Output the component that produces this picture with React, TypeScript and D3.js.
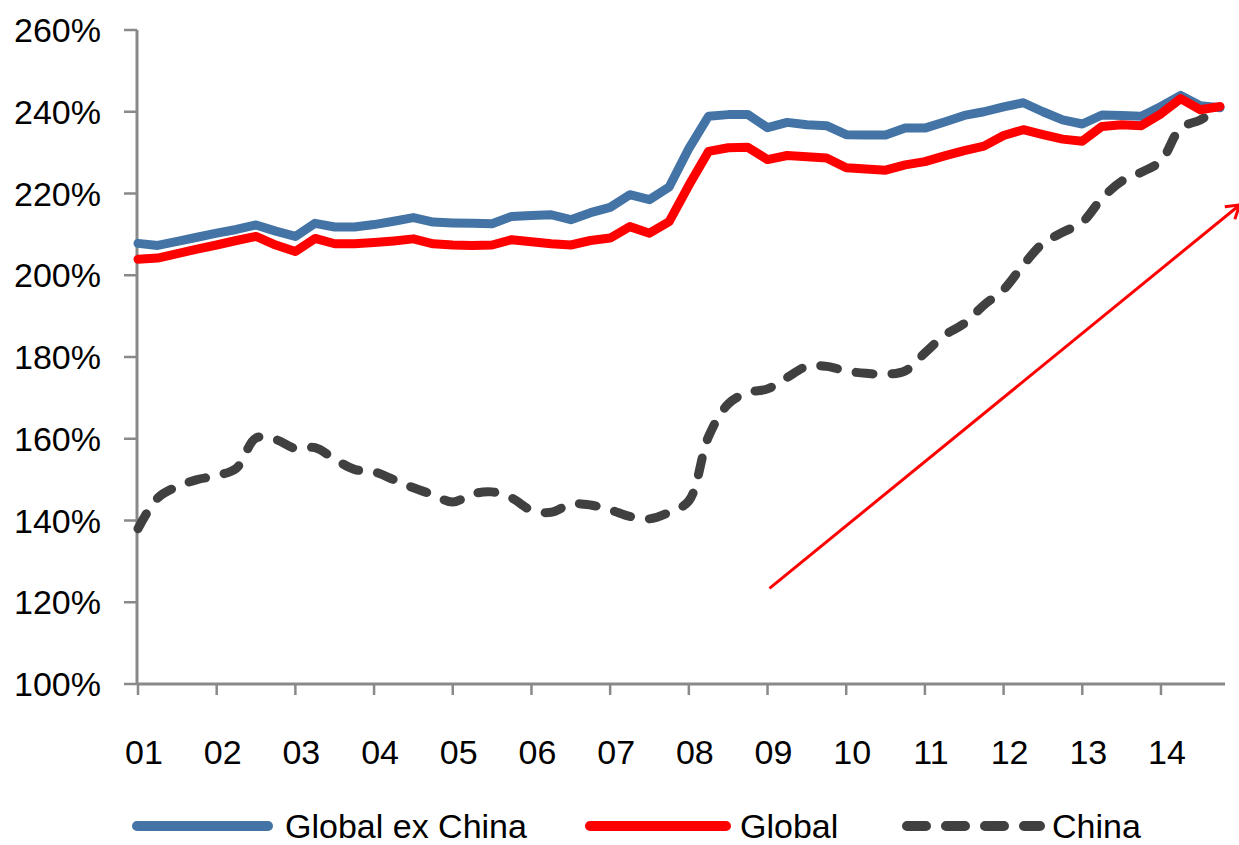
import React from "react";
import * as d3 from "d3";

// Quarterly observations, 2001 Q1 through 2014 Q4 (% of GDP)
const globalExChina = [
  207.8, 207.3, 208.3, 209.3, 210.3, 211.2, 212.3, 210.8, 209.5, 212.7, 211.8, 211.8,
  212.4, 213.2, 214.1, 213.0, 212.8, 212.7, 212.6, 214.4, 214.6, 214.8, 213.6, 215.3,
  216.6, 219.7, 218.5, 221.6, 231.0, 238.9, 239.3, 239.3, 236.1, 237.4, 236.8, 236.6,
  234.4, 234.3, 234.3, 236.0, 236.0, 237.5, 239.1, 240.0, 241.2, 242.2, 240.0, 238.0,
  237.0, 239.2, 239.1, 238.9, 241.3, 244.0, 241.5, 241.0,
];

const globalTotal = [
  203.9, 204.2, 205.3, 206.4, 207.4, 208.5, 209.5, 207.4, 205.8, 209.0, 207.7, 207.7,
  208.0, 208.4, 208.9, 207.7, 207.4, 207.3, 207.4, 208.7, 208.2, 207.7, 207.4, 208.5,
  209.1, 211.9, 210.3, 213.1, 222.0, 230.3, 231.2, 231.3, 228.3, 229.3, 229.0, 228.7,
  226.3, 226.0, 225.7, 227.0, 227.8, 229.2, 230.5, 231.6, 234.2, 235.6, 234.4, 233.3,
  232.8, 236.4, 236.8, 236.6, 239.5, 243.2, 240.5, 241.3,
];

const china = [
  138.0, 145.5, 148.3, 150.0, 151.0, 152.8, 160.2, 159.8, 157.6, 157.8, 155.0, 152.5,
  151.9, 150.0, 148.0, 146.3, 144.5, 146.5, 147.0, 145.5, 142.5, 142.0, 144.0, 143.8,
  142.6, 141.0, 140.4, 142.0, 144.8, 160.5, 168.5, 171.3, 172.2, 175.0, 177.7, 177.7,
  176.6, 176.0, 175.8, 176.6, 181.0, 185.3, 188.2, 192.7, 196.5, 202.5, 207.8, 210.5,
  213.0, 218.8, 223.0, 225.2, 228.0, 236.0, 238.0, 241.0,
];

const yearLabels = ["01", "02", "03", "04", "05", "06", "07", "08", "09", "10", "11", "12", "13", "14"];
const yTicks = [100, 120, 140, 160, 180, 200, 220, 240, 260];

// Trend arrow, in (quarter index, value) coordinates
const trendFrom = { q: 32.1, v: 123.4 };
const trendTo = { q: 56.0, v: 217.2 };

const W = 1239;
const H = 845;
const FONT = "'Liberation Sans', Arial, sans-serif";
const AXIS = "#898989";
const BLUE = "#4374a5";
const RED = "#ff0000";
const DARK = "#404040";

export default function App() {
  const x = d3.scaleLinear().domain([0, 55]).range([138, 1220]);
  const y = d3.scaleLinear().domain([100, 260]).range([684, 30]);

  const axisLeft = 137;
  const axisRight = 1225;
  const axisBottom = y(100);

  const straight = d3
    .line<number>()
    .x((_, i) => x(i))
    .y((d) => y(d))
    .curve(d3.curveLinear);

  const smooth = d3
    .line<number>()
    .x((_, i) => x(i))
    .y((d) => y(d))
    .curve(d3.curveCatmullRom.alpha(0.5));

  // arrowhead
  const ax0 = x(trendFrom.q);
  const ay0 = y(trendFrom.v);
  const ax1 = x(trendTo.q);
  const ay1 = y(trendTo.v);
  const ang = Math.atan2(ay1 - ay0, ax1 - ax0);
  const headLen = 15;
  const headAng = (32 * Math.PI) / 180;
  const h1 = [ax1 - headLen * Math.cos(ang - headAng), ay1 - headLen * Math.sin(ang - headAng)];
  const h2 = [ax1 - headLen * Math.cos(ang + headAng), ay1 - headLen * Math.sin(ang + headAng)];

  const legendY = 826;

  return (
    <svg
      width={W}
      height={H}
      viewBox={`0 0 ${W} ${H}`}
      style={{ position: "absolute", left: 0, top: 0, background: "#fff" }}
      fontFamily={FONT}
    >
      {/* y axis */}
      <line x1={axisLeft} x2={axisLeft} y1={y(260)} y2={axisBottom} stroke={AXIS} strokeWidth={3} />
      {yTicks.map((t) => (
        <g key={t}>
          <line x1={axisLeft - 13} x2={axisLeft} y1={y(t)} y2={y(t)} stroke={AXIS} strokeWidth={2.5} />
          <text x={101} y={y(t)} dy="0.36em" textAnchor="end" fontSize={34} fill="#000">
            {t}%
          </text>
        </g>
      ))}

      {/* x axis */}
      <line x1={axisLeft} x2={axisRight} y1={axisBottom} y2={axisBottom} stroke={AXIS} strokeWidth={3} />
      {yearLabels.map((lab, k) => (
        <g key={lab}>
          <line x1={x(k * 4)} x2={x(k * 4)} y1={axisBottom} y2={axisBottom + 11} stroke={AXIS} strokeWidth={2.5} />
          <text x={x(k * 4) + 6} y={764} textAnchor="middle" fontSize={34} fill="#000">
            {lab}
          </text>
        </g>
      ))}

      {/* series */}
      <path d={smooth(china) ?? ""} fill="none" stroke={DARK} strokeWidth={9} strokeDasharray="17 19" strokeLinecap="round" />
      <path d={straight(globalExChina) ?? ""} fill="none" stroke={BLUE} strokeWidth={9} strokeLinejoin="round" strokeLinecap="round" />
      <path d={straight(globalTotal) ?? ""} fill="none" stroke={RED} strokeWidth={9} strokeLinejoin="round" strokeLinecap="round" />

      {/* trend arrow */}
      <line x1={ax0} y1={ay0} x2={ax1} y2={ay1} stroke={RED} strokeWidth={3} />
      <polyline points={`${h1[0]},${h1[1]} ${ax1},${ay1} ${h2[0]},${h2[1]}`} fill="none" stroke={RED} strokeWidth={3} />

      {/* legend */}
      <line x1={137} x2={268} y1={legendY} y2={legendY} stroke={BLUE} strokeWidth={10} strokeLinecap="round" />
      <text x={285} y={legendY} dy="0.36em" fontSize={34} fill="#000">Global ex China</text>
      <line x1={590} x2={726} y1={legendY} y2={legendY} stroke={RED} strokeWidth={10} strokeLinecap="round" />
      <text x={740} y={legendY} dy="0.36em" fontSize={34} fill="#000">Global</text>
      <line x1={907} x2={1040} y1={legendY} y2={legendY} stroke={DARK} strokeWidth={10} strokeLinecap="round" strokeDasharray="19 20" />
      <text x={1052} y={legendY} dy="0.36em" fontSize={34} fill="#000">China</text>
    </svg>
  );
}
